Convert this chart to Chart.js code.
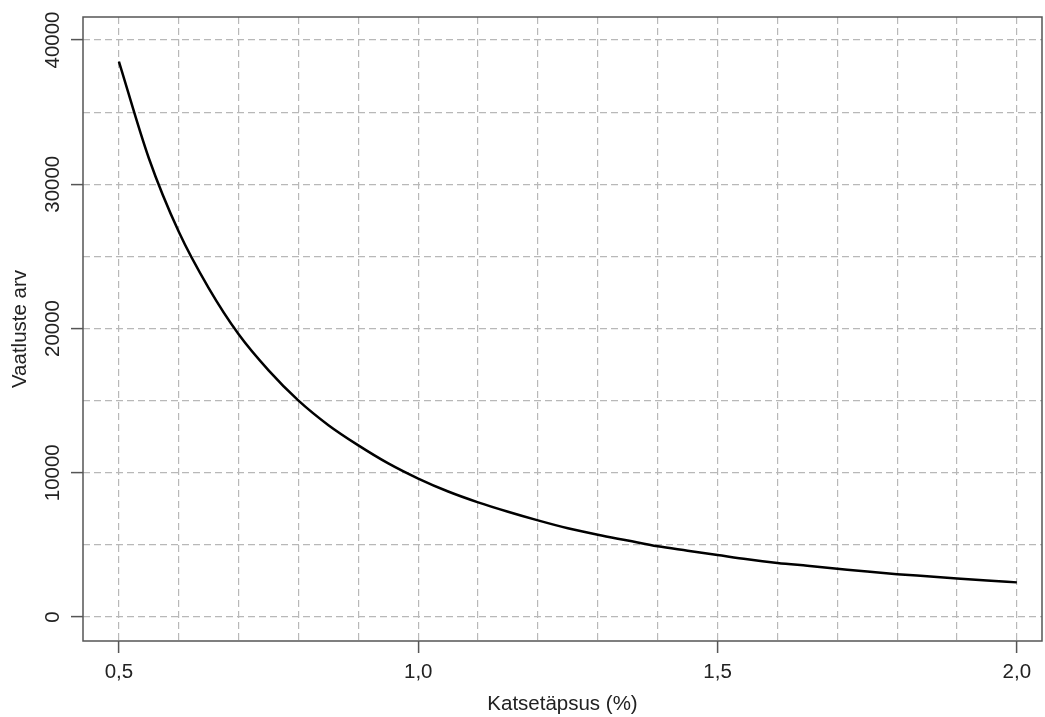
<!DOCTYPE html>
<html>
<head>
<meta charset="utf-8">
<script src="https://cdn.jsdelivr.net/npm/chart.js@4.4.0/dist/chart.umd.min.js"></script>
<style>
  html, body { margin: 0; padding: 0; background: #fff; }
  #wrap { width: 1045px; height: 717px; }
</style>
</head>
<body>
<div id="wrap"><canvas id="chart_katse"></canvas></div>
<script>
// values
var accuracy = [0.50, 0.55, 0.60, 0.65, 0.70, 0.75, 0.80, 0.85, 0.90, 0.95,
                1.00, 1.05, 1.10, 1.15, 1.20, 1.25, 1.30, 1.35, 1.40, 1.45,
                1.50, 1.55, 1.60, 1.65, 1.70, 1.75, 1.80, 1.85, 1.90, 1.95, 2.00];
var sampleSize = [38500, 31800, 26700, 22800, 19600, 17100, 15000, 13300, 11900, 10650,
                  9600, 8700, 7950, 7300, 6700, 6150, 5700, 5300, 4900, 4600,
                  4300, 4000, 3750, 3550, 3350, 3150, 2970, 2820, 2670, 2530, 2400];

var xGridTicks = [0.5, 0.6, 0.7, 0.8, 0.9, 1.0, 1.1, 1.2, 1.3, 1.4, 1.5, 1.6, 1.7, 1.8, 1.9, 2.0];
var xLabelTicks = [0.5, 1.0, 1.5, 2.0];
var yGridTicks = [0, 5000, 10000, 15000, 20000, 25000, 30000, 35000, 40000];
var yLabelTicks = [0, 10000, 20000, 30000, 40000];

function isMajor(list, v) {
    return list.some(function(m) { return Math.abs(m - v) < 1e-6; });
}

var fontFamily = "'Liberation Sans', Arial, sans-serif";
var fontSize = 20.5;
var textColor = '#222';
var frameColor = '#555';
var gridColor = '#b8b8b8';

var points = accuracy.map(function(x, i) { return {x: x, y: sampleSize[i]}; });

var chart_katse = new Chart(document.getElementById('chart_katse'), {
    type: 'line',
    data: {
        datasets: [
            {
                label: 'Vaatluste arv',
                data: points,
                borderColor: '#000',
                borderWidth: 2.5,
                pointRadius: 0,
                cubicInterpolationMode: 'monotone',
                fill: false
            }
        ]
    },
    options: {
        animation: false,
        responsive: true,
        maintainAspectRatio: false,
        layout: {
            padding: {top: 17, right: 3, left: 0, bottom: 0}
        },
        plugins: {
            legend: {display: false},
            tooltip: {enabled: false}
        },
        scales: {
            x: {
                type: 'linear',
                min: 0.44,
                max: 2.042,
                afterBuildTicks: function(scale) {
                    scale.ticks = xGridTicks.map(function(v) { return {value: v}; });
                },
                afterFit: function(scale) { scale.height = 76; },
                ticks: {
                    autoSkip: false,
                    maxRotation: 0,
                    padding: 7,
                    color: textColor,
                    font: {family: fontFamily, size: fontSize},
                    callback: function(value) {
                        return isMajor(xLabelTicks, value) ? value.toFixed(1).replace('.', ',') : '';
                    }
                },
                grid: {
                    color: gridColor,
                    lineWidth: 1.2,
                    tickLength: 12,
                    tickWidth: 1.5,
                    tickColor: function(ctx) {
                        return ctx.tick && isMajor(xLabelTicks, ctx.tick.value) ? frameColor : 'rgba(0,0,0,0)';
                    }
                },
                border: {display: false, dash: [7, 4]},
                title: {
                    display: true,
                    text: 'Katsetäpsus (%)',
                    color: textColor,
                    font: {family: fontFamily, size: fontSize},
                    padding: {top: 0, bottom: 0}
                }
            },
            y: {
                type: 'linear',
                min: -1664,
                max: 41594,
                afterBuildTicks: function(scale) {
                    scale.ticks = yGridTicks.map(function(v) { return {value: v}; });
                },
                afterFit: function(scale) { scale.width = 83; },
                ticks: {
                    autoSkip: false,
                    minRotation: 90,
                    maxRotation: 90,
                    crossAlign: 'center',
                    padding: -11,
                    color: textColor,
                    font: {family: fontFamily, size: fontSize},
                    callback: function(value) {
                        return isMajor(yLabelTicks, value) ? String(value) : '';
                    }
                },
                grid: {
                    color: gridColor,
                    lineWidth: 1.2,
                    tickLength: 12,
                    tickWidth: 1.5,
                    tickColor: function(ctx) {
                        return ctx.tick && isMajor(yLabelTicks, ctx.tick.value) ? frameColor : 'rgba(0,0,0,0)';
                    }
                },
                border: {display: false, dash: [7, 4]},
                title: {
                    display: true,
                    text: 'Vaatluste arv',
                    color: textColor,
                    font: {family: fontFamily, size: fontSize},
                    padding: {top: 8, bottom: 0}
                }
            }
        }
    },
    plugins: [{
        id: 'plotFrame',
        beforeDraw: function(chart) {
            var ctx = chart.ctx;
            ctx.save();
            ctx.fillStyle = 'white';
            ctx.fillRect(0, 0, chart.width, chart.height);
            ctx.restore();
        },
        afterDraw: function(chart) {
            var a = chart.chartArea;
            var ctx = chart.ctx;
            ctx.save();
            ctx.strokeStyle = frameColor;
            ctx.lineWidth = 1.5;
            ctx.setLineDash([]);
            ctx.strokeRect(a.left, a.top, a.right - a.left, a.bottom - a.top);
            ctx.restore();
        }
    }]
});
</script>
</body>
</html>
